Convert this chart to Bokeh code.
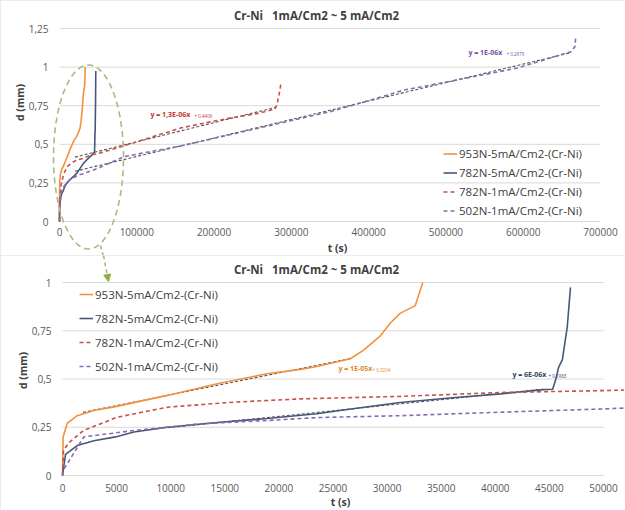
import numpy as np
from bokeh.plotting import figure
from bokeh.models import (Legend, LegendItem, Label, PolyAnnotation, Arrow,
                          NormalHead, FixedTicker, CustomJSTickFormatter)
from bokeh.layouts import column
from bokeh.embed import file_html
from bokeh.resources import INLINE

# ---------------- data ----------------
title_text = "Cr-Ni\u00a0\u00a0 1mA/Cm2 ~ 5 mA/Cm2"
x_title = "t (s)"
y_title = "d (mm)"
series_names = ["953N-5mA/Cm2-(Cr-Ni)", "782N-5mA/Cm2-(Cr-Ni)",
                "782N-1mA/Cm2-(Cr-Ni)", "502N-1mA/Cm2-(Cr-Ni)"]

t_953N_5mA = [0, 60, 430, 1360, 2900, 4900, 9700, 14300, 18900, 22000, 23500,
              26600, 27800, 29400, 30300, 31200, 32600, 33000, 33300]
d_953N_5mA = [0, 0.20, 0.27, 0.31, 0.337, 0.357, 0.415, 0.475, 0.527, 0.55, 0.565,
              0.605, 0.648, 0.725, 0.79, 0.84, 0.88, 0.95, 1.0]

t_782N_5mA = [0, 280, 1360, 2900, 4900, 6600, 9700, 14300, 18900, 23500, 27000,
              31200, 35500, 40500, 44400, 45300, 45600, 45850, 46200, 46650, 46950]
d_782N_5mA = [0, 0.11, 0.155, 0.18, 0.2, 0.225, 0.25, 0.275, 0.295, 0.32, 0.347,
              0.378, 0.40, 0.423, 0.445, 0.447, 0.50, 0.56, 0.60, 0.77, 0.975]

t_782N_1mA = [0, 90, 600, 1940, 5050, 9700, 15800, 22000, 31200, 40500, 50000,
              83500, 120000, 157800, 190000, 223000, 255000, 279000, 281500, 284000, 287000]
d_782N_1mA = [0, 0.13, 0.17, 0.233, 0.302, 0.354, 0.38, 0.397, 0.41, 0.43, 0.44,
              0.49, 0.548, 0.607, 0.64, 0.672, 0.698, 0.728, 0.76, 0.82, 0.905]

t_502N_1mA = [0, 100, 430, 1970, 6600, 12750, 18900, 23500, 31200, 40500, 50000,
              83500, 157800, 288000, 353000, 418500, 444600, 505500, 592300, 635800,
              662000, 667000, 668000]
d_502N_1mA = [0, 0.03, 0.06, 0.2, 0.233, 0.268, 0.285, 0.3, 0.31, 0.328, 0.345,
              0.42, 0.49, 0.64, 0.715, 0.81, 0.85, 0.908, 0.994, 1.06,
              1.10, 1.134, 1.2]

x_ticks_top = [0, 100000, 200000, 300000, 400000, 500000, 600000, 700000]
y_ticks_top = [0, 0.25, 0.5, 0.75, 1, 1.25]
x_ticks_bottom = [0, 5000, 10000, 15000, 20000, 25000, 30000, 35000, 40000, 45000, 50000]
y_ticks_bottom = [0, 0.25, 0.5, 0.75, 1]

trend_main = ["y = 1,3E-06x", "y = 1E-06x", "y = 1E-05x", "y = 6E-06x"]
trend_suffix = ["+ 0,4406", "+ 0,2979", "+ 0,3204", "+ 0,1983"]

# ---------------- styles ----------------
FONT = "Open Sans"
C_OR = "#F4913A"
C_BL = "#46587A"
C_RD = "#C8504D"
C_PU = "#8A6AAE"
C_TR = "#2A2A2A"
C_GR = "#A9BA7E"
C_GRH = "#8FAD45"
C_GRID = "#D9D9D9"
colors = [C_OR, C_BL, C_RD, C_PU]
dashes = ["solid", "solid", "4 3", "4 3"]
series = [(t_953N_5mA, d_953N_5mA), (t_782N_5mA, d_782N_5mA),
          (t_782N_1mA, d_782N_1mA), (t_502N_1mA, d_502N_1mA)]

W = 624
fmt = CustomJSTickFormatter(code="return tick.toString().replace('.', ',');")


def trend(t, d, fit_lo, hi, draw_lo):
    t = np.asarray(t, float)
    d = np.asarray(d, float)
    m = (t >= fit_lo) & (t <= hi)
    k, b = np.polyfit(t[m], d[m], 1)
    xs = np.array([draw_lo, hi])
    return xs, k * xs + b


class Frame:
    """Plot whose frame covers the whole canvas; axes fixed at 0."""

    def __init__(self, H, xt, yt, px0, px1, py0, py1, xstand):
        x0, x1 = xt[0], xt[-1]
        y0, y1 = yt[0], yt[-1]
        self.sx = (px1 - px0) / (x1 - x0)
        self.sy = (py0 - py1) / (y1 - y0)
        self.px0, self.py0 = px0, py0
        xr = (x0 - px0 / self.sx, x1 + (W - px1) / self.sx)
        yr = (y0 - (H - py0) / self.sy, y1 + py1 / self.sy)
        p = figure(width=W, height=H, x_range=xr, y_range=yr,
                   output_backend="svg", toolbar_location=None, title_location=None,
                   min_border=0,
                   styles={"outline": "1px solid #D9D9D9", "outline-offset": "-1px"})
        p.outline_line_color = None
        p.xgrid.visible = False
        p.ygrid.visible = False
        for ax in (p.xaxis[0], p.yaxis[0]):
            ax.fixed_location = 0
            ax.axis_line_color = None
            ax.major_tick_line_color = None
            ax.minor_tick_line_color = None
            ax.major_tick_out = 0
            ax.major_tick_in = 0
            ax.minor_tick_out = 0
            ax.major_label_text_font = FONT
            ax.major_label_text_font_size = "10px"
            ax.major_label_text_color = "#595959"
            ax.formatter = fmt
        p.xaxis.ticker = FixedTicker(ticks=xt)
        p.yaxis.ticker = FixedTicker(ticks=yt)
        p.xaxis.major_label_standoff = xstand
        p.yaxis.major_label_standoff = 11
        # horizontal gridlines at the y ticks, spanning the x axis
        p.segment(x0=[x0] * len(yt), x1=[x1] * len(yt), y0=yt, y1=yt,
                  line_color=C_GRID, line_width=1)
        self.p = p

    def d(self, px, py):
        return (px - self.px0) / self.sx, (self.py0 - py) / self.sy


def add_common(F, title_xy, xt_xy, yt_xy):
    p = F.p
    tx, ty = F.d(*title_xy)
    p.add_layout(Label(x=tx, y=ty, text=title_text, text_font=FONT,
                       text_font_size="11.5px", text_font_style="bold",
                       text_color="#404040", text_align="center",
                       text_baseline="middle"))
    ax_, ay_ = F.d(*xt_xy)
    p.add_layout(Label(x=ax_, y=ay_, text=x_title, text_font=FONT,
                       text_font_size="10.5px", text_font_style="bold",
                       text_color="#404040", text_align="center",
                       text_baseline="middle"))
    bx, by = F.d(*yt_xy)
    p.add_layout(Label(x=bx, y=by, text=y_title, text_font=FONT, angle=np.pi / 2,
                       text_font_size="10.5px", text_font_style="bold",
                       text_color="#404040", text_align="center",
                       text_baseline="middle"))


def add_lines(p):
    rs = []
    for (t, d), c, ds in zip(series, colors, dashes):
        rs.append(p.line(t, d, line_color=c, line_width=1.6, line_dash=ds))
    return rs


def add_legend(p, rs, loc, lh, spacing):
    items = [LegendItem(label=n, renderers=[r]) for n, r in zip(series_names, rs)]
    lg = Legend(items=items, location=loc, padding=0, spacing=spacing, margin=0,
                label_height=lh, glyph_height=lh, glyph_width=14, label_standoff=2,
                background_fill_alpha=0, border_line_alpha=0,
                label_text_font=FONT, label_text_font_size="11.5px",
                label_text_color="#404040")
    p.add_layout(lg)


def add_trend_label(F, pxy, i, color, dx):
    x, y = F.d(*pxy)
    F.p.add_layout(Label(x=x, y=y, text=trend_main[i], text_font=FONT,
                         text_font_size="7px", text_font_style="bold",
                         text_color=color, text_baseline="middle"))
    F.p.add_layout(Label(x=x, y=y, x_offset=dx, y_offset=-1, text=trend_suffix[i],
                         text_font=FONT, text_font_size="4.5px",
                         text_color=color, text_baseline="middle"))


# ---------------- top chart ----------------
F1 = Frame(255, x_ticks_top, y_ticks_top, 59, 600, 221, 28, 6)
p1 = F1.p
for (t, d), lo, hi in [((t_782N_1mA, d_782N_1mA), 50000, 279000),
                       ((t_502N_1mA, d_502N_1mA), 50000, 662000)]:
    xs, ys = trend(t, d, lo, hi, 20000)
    p1.line(xs, ys, line_color=C_TR, line_width=1.1, line_dash="3 2", line_alpha=0.8)
r1 = add_lines(p1)
add_legend(p1, r1, (443, 35), 19, 0)
add_common(F1, (316, 15), (337, 247), (19, 102))
add_trend_label(F1, (150, 114), 0, "#C0392B", 44)
add_trend_label(F1, (468, 52), 1, "#7B4FA6", 38)

# dashed green ellipse marking the zoomed region, and start of the arrow
cx, cy = F1.d(88, 156.5)
ea, eb = 35 / F1.sx, 92 / F1.sy
th = np.linspace(0, 2 * np.pi, 120)
p1.add_layout(PolyAnnotation(xs=list(cx + ea * np.cos(th)), ys=list(cy + eb * np.sin(th)),
                             fill_alpha=0, line_color=C_GR, line_alpha=1,
                             line_width=1.6, line_dash="6 4"))
a0 = F1.d(100, 245)
a1 = F1.d(103, 256)
p1.add_layout(Arrow(x_start=a0[0], y_start=a0[1], x_end=a1[0], y_end=a1[1], end=None,
                    line_color=C_GR, line_width=1.6, line_dash="4 3"))

# ---------------- bottom chart ----------------
F2 = Frame(254, x_ticks_bottom, y_ticks_bottom, 62, 603, 220, 27, 8)
p2 = F2.p
for (t, d), flo, hi, dlo in [((t_953N_5mA, d_953N_5mA), 1900, 26600, 1900),
                             ((t_782N_5mA, d_782N_5mA), 9700, 44400, 9700)]:
    xs, ys = trend(t, d, flo, hi, dlo)
    p2.line(xs, ys, line_color=C_TR, line_width=1.1, line_dash="3 2", line_alpha=0.8)
r2 = add_lines(p2)
add_legend(p2, r2, (79, 133), 20, 4)
add_common(F2, (316, 14), (340, 246), (22, 115))
add_trend_label(F2, (338, 113), 2, "#E08A2E", 34)
add_trend_label(F2, (512, 119), 3, "#2F3F5F", 36)
b0 = F2.d(103, 0)
b1 = F2.d(108, 26)
p2.add_layout(Arrow(x_start=b0[0], y_start=b0[1], x_end=b1[0], y_end=b1[1],
                    line_color=C_GR, line_width=1.6, line_dash="4 3",
                    end=NormalHead(size=7, fill_color=C_GRH, line_color=C_GRH,
                                   line_dash="solid")))

layout = column(p1, p2, spacing=0)
open("out.html", "w").write(file_html(layout, INLINE))
